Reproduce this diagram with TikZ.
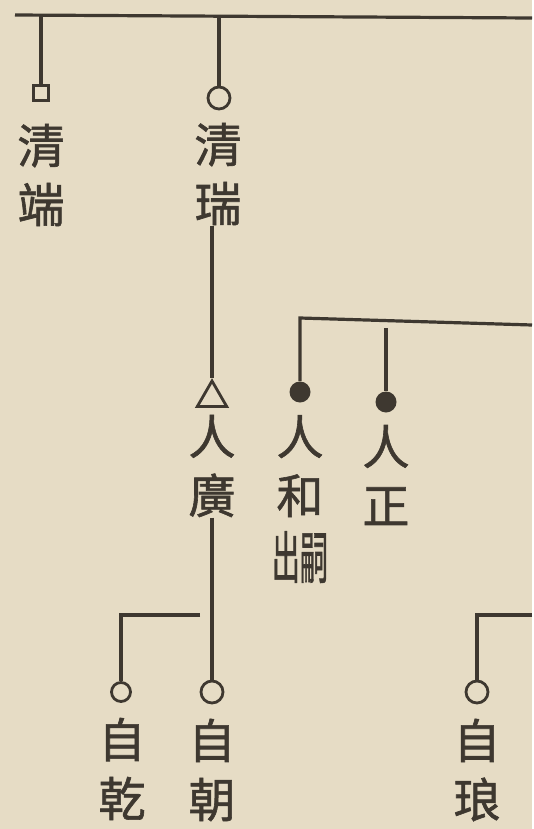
\documentclass[tikz,border=0pt]{standalone}
\usepackage{fontspec}
\newfontfamily\cjk[FakeBold=1.3]{Noto Sans CJK TC}
\usetikzlibrary{shapes.geometric}
\definecolor{paper}{HTML}{E6DCC5}
\definecolor{ink}{HTML}{3E3830}

\begin{document}
\begin{tikzpicture}[x=0.5pt,y=-0.5pt,
    line/.style={draw=ink, line width=1.6pt},
    hanzi/.style={font=\cjk\fontsize{23.5}{29.5}\selectfont, text=ink, align=center, inner sep=0pt},
    hollow/.style={circle, draw=ink, line width=1.4pt, minimum size=11pt, inner sep=0pt},
    filled/.style={circle, fill=ink, minimum size=10.5pt, inner sep=0pt},
    box/.style={rectangle, draw=ink, line width=1.1pt, minimum size=7.5pt, inner sep=0pt},
    tri/.style={regular polygon, regular polygon sides=3, draw=ink, line width=1.4pt, minimum size=17pt, inner sep=0pt}]
    % Paper
    \fill[paper] (0,0) rectangle (532,829);

    % Markers
    \node[box] (dq) at (41,93) {};
    \node[hollow] (rq) at (219,98) {};
    \node[tri] (gq) at (212,398) {};
    \node[filled] (hq) at (300,392) {};
    \node[filled] (zq) at (386,402) {};
    \node[hollow, minimum size=9.5pt] (qq) at (121,692) {};
    \node[hollow] (cq) at (212,692) {};
    \node[hollow] (lq) at (477,692) {};

    % Names
    \node[hanzi] (duan) at (41,175) {清\\端};
    \node[hanzi] (rui) at (218,174) {清\\瑞};
    \node[hanzi] (guang) at (212,466) {人\\廣};
    \node[hanzi] (he) at (300,499) {人\\和\\[3pt]\scalebox{0.6}[1.2]{出}\scalebox{0.6}[1.2]{嗣}};
    \node[hanzi] (zheng) at (386,475) {人\\正};
    \node[hanzi] (qian) at (122,769) {自\\乾};
    \node[hanzi] (chao) at (212,770) {自\\朝};
    \node[hanzi] (lang) at (477,770) {自\\琅};

    % Top line
    \coordinate (tl) at (15,15);
    \coordinate (tr) at (532,18);
    \draw[line] (tl) -- (tr);
    \draw[line] (dq.north |- tl) -- (dq.north);
    \draw[line] (rq.north |- tl) -- (rq.north);

    % Line of descent
    \draw[line] (gq.north |- rui.south) -- (gq.north);
    \draw[line] (cq.north |- guang.south) -- (cq.north);

    % Branch from the right
    \coordinate (mr) at (532,325);
    \coordinate (ml) at (300,318);
    \coordinate (zt) at (386,328);
    \draw[line] (mr) -- (ml) -- (hq.north);
    \draw[line] (zt) -- (zq.north);

    % Lower branches
    \coordinate (qr) at (200,615);
    \draw[line] (qr) -- (qq.north |- qr) -- (qq.north);
    \coordinate (lr) at (532,615);
    \draw[line] (lr) -- (lq.north |- lr) -- (lq.north);
\end{tikzpicture}
\end{document}
